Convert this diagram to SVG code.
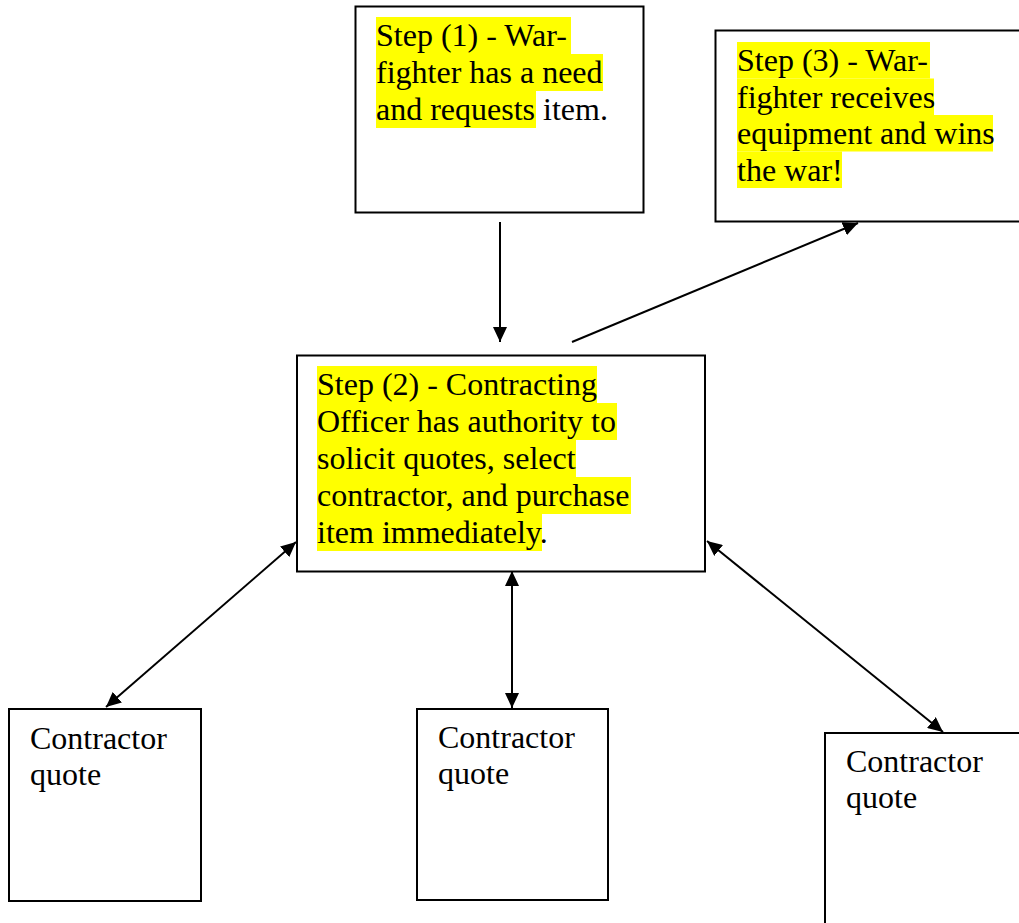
<svg xmlns="http://www.w3.org/2000/svg" width="1019" height="923" viewBox="0 0 1019 923">
<style>
.box{fill:#fff;stroke:#000;stroke-width:2}
.hl{fill:#ffff00}
.t{font-family:"Liberation Serif","Times New Roman",serif;font-size:32px;fill:#000}
.c{fill:none;stroke:#000;stroke-width:2}
</style>
<defs>
<marker id="ah" markerUnits="userSpaceOnUse" markerWidth="15" markerHeight="14" refX="15" refY="7" orient="auto-start-reverse" viewBox="0 0 15 14">
<path d="M0,0 L15,7 L0,14 Z" fill="#000"/>
</marker>
</defs>
<rect width="1019" height="923" fill="#fff"/>
<g id="step1">
<rect class="box" x="355.5" y="6.5" width="288" height="206"/>
<rect class="hl" x="376" y="17" width="195" height="37"/>
<rect class="hl" x="376" y="54" width="227" height="37"/>
<rect class="hl" x="376" y="91" width="160" height="37"/>
<text class="t"><tspan x="376" y="46">Step (1) - War-</tspan><tspan x="376" y="83">fighter has a need</tspan><tspan x="376" y="120">and requests item.</tspan></text>
</g>
<g id="step3">
<rect class="box" x="715.5" y="30.5" width="320" height="191"/>
<rect class="hl" x="737" y="42" width="193" height="36.5"/>
<rect class="hl" x="737" y="78.5" width="197" height="36.5"/>
<rect class="hl" x="737" y="115" width="256" height="36.5"/>
<rect class="hl" x="737" y="151.5" width="105" height="36.5"/>
<text class="t"><tspan x="737" y="71">Step (3) - War-</tspan><tspan x="737" y="107.5">fighter receives</tspan><tspan x="737" y="144">equipment and wins</tspan><tspan x="737" y="180.5">the war!</tspan></text>
</g>
<g id="step2">
<rect class="box" x="297" y="355.5" width="408" height="216"/>
<rect class="hl" x="317" y="366" width="280" height="37"/>
<rect class="hl" x="317" y="403" width="300" height="37"/>
<rect class="hl" x="317" y="440" width="259" height="37"/>
<rect class="hl" x="317" y="477" width="314" height="37"/>
<rect class="hl" x="317" y="514" width="225" height="37"/>
<text class="t"><tspan x="317" y="395">Step (2) - Contracting</tspan><tspan x="317" y="432">Officer has authority to</tspan><tspan x="317" y="469">solicit quotes, select</tspan><tspan x="317" y="506">contractor, and purchase</tspan><tspan x="317" y="543">item immediately.</tspan></text>
</g>
<g id="quoteA">
<rect class="box" x="9" y="709" width="192" height="192"/>
<text class="t"><tspan x="30" y="749">Contractor</tspan><tspan x="30" y="785">quote</tspan></text>
</g>
<g id="quoteB">
<rect class="box" x="417" y="709" width="191" height="191"/>
<text class="t"><tspan x="438" y="748">Contractor</tspan><tspan x="438" y="784">quote</tspan></text>
</g>
<g id="quoteC">
<rect class="box" x="825" y="733" width="210" height="200"/>
<text class="t"><tspan x="846" y="772">Contractor</tspan><tspan x="846" y="808">quote</tspan></text>
</g>
<g id="connectors">
<line class="c" x1="500" y1="222" x2="500" y2="342" marker-end="url(#ah)"/>
<line class="c" x1="572" y1="342" x2="858" y2="223" marker-end="url(#ah)"/>
<line class="c" x1="296" y1="542" x2="106" y2="707" marker-start="url(#ah)" marker-end="url(#ah)"/>
<line class="c" x1="512" y1="571" x2="512" y2="708" marker-start="url(#ah)" marker-end="url(#ah)"/>
<line class="c" x1="707" y1="541" x2="943" y2="732" marker-start="url(#ah)" marker-end="url(#ah)"/>
</g>
</svg>
